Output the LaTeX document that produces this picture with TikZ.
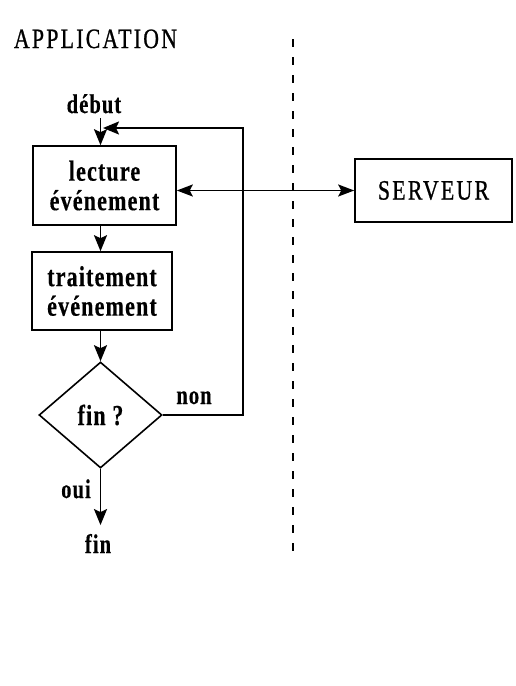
\documentclass[tikz,border=0pt]{standalone}
\usepackage{fontspec}
\setmainfont{Liberation Serif}
\newfontfamily\titf{Liberation Serif}[FakeStretch=0.78,LetterSpace=8,FakeBold=0.8]
\newfontfamily\labf{Liberation Serif}[FakeStretch=0.76,LetterSpace=4,FakeBold=0.4]
\usetikzlibrary{arrows.meta,shapes.geometric}
\begin{document}
\begin{tikzpicture}[x=1pt,y=-1pt,
  line width=1.8pt,
  arr/.style={-{Stealth[length=16pt,width=13pt,inset=3pt]}},
  dbl/.style={{Stealth[length=16pt,width=12pt,inset=3pt]}-{Stealth[length=16pt,width=12pt,inset=3pt]}},
  box/.style={draw, line width=1.6pt, inner sep=0pt, align=center,
    font=\labf\bfseries\fontsize{29}{29.5}\selectfont},
  lbl/.style={inner sep=0pt, font=\labf\bfseries\fontsize{27}{28}\selectfont},
  tit/.style={inner sep=0pt, font=\titf\fontsize{28}{30}\selectfont}]
\useasboundingbox (0,0) rectangle (515,686);
\node[tit, anchor=base west] (app) at (13,48) {APPLICATION};
\coordinate (dtop) at (293,39);
\coordinate (dbot) at (293,555);
\draw[dash pattern=on 8pt off 10pt, line width=1.8pt] (dtop) -- (dbot);
\node[lbl, anchor=base] (debut) at (94,113) {début};
\node[box, minimum width=143pt, minimum height=79pt] (b1) at (104.5,185.5) {lecture\\événement};
\node[box, minimum width=140pt, minimum height=78pt] (b2) at (102,291) {traitement\\événement};
\node[draw, diamond, line width=1.6pt, minimum width=123pt, minimum height=106pt, inner sep=0pt,
  font=\labf\bfseries\fontsize{29}{29.5}\selectfont] (d) at (100.5,415) {fin ?};
\node[lbl, anchor=base] (fin) at (98,553) {fin};
\node[lbl, anchor=base] (oui) at (76,498) {oui};
\node[lbl, anchor=base] (non) at (194,404) {non};
\node[draw, line width=1.6pt, minimum width=157pt, minimum height=63pt, tit] (srv) at (433.5,190.5) {SERVEUR};
\coordinate (entry) at (103,128);
\draw[arr, shorten <=4pt] (debut.south -| d.north) -- (b1.north -| d.north);
\draw[arr] (b1.south -| d.north) -- (b2.north -| d.north);
\draw[arr] (b2.south -| d.north) -- (d.north);
\draw[arr, shorten >=8pt] (d.south) -- (fin.north -| d.south);
\draw[arr] (d.east) -- ++(80,0) |- (entry);
\draw[dbl] (b1.east |- srv.west) -- (srv.west);
\end{tikzpicture}
\end{document}
